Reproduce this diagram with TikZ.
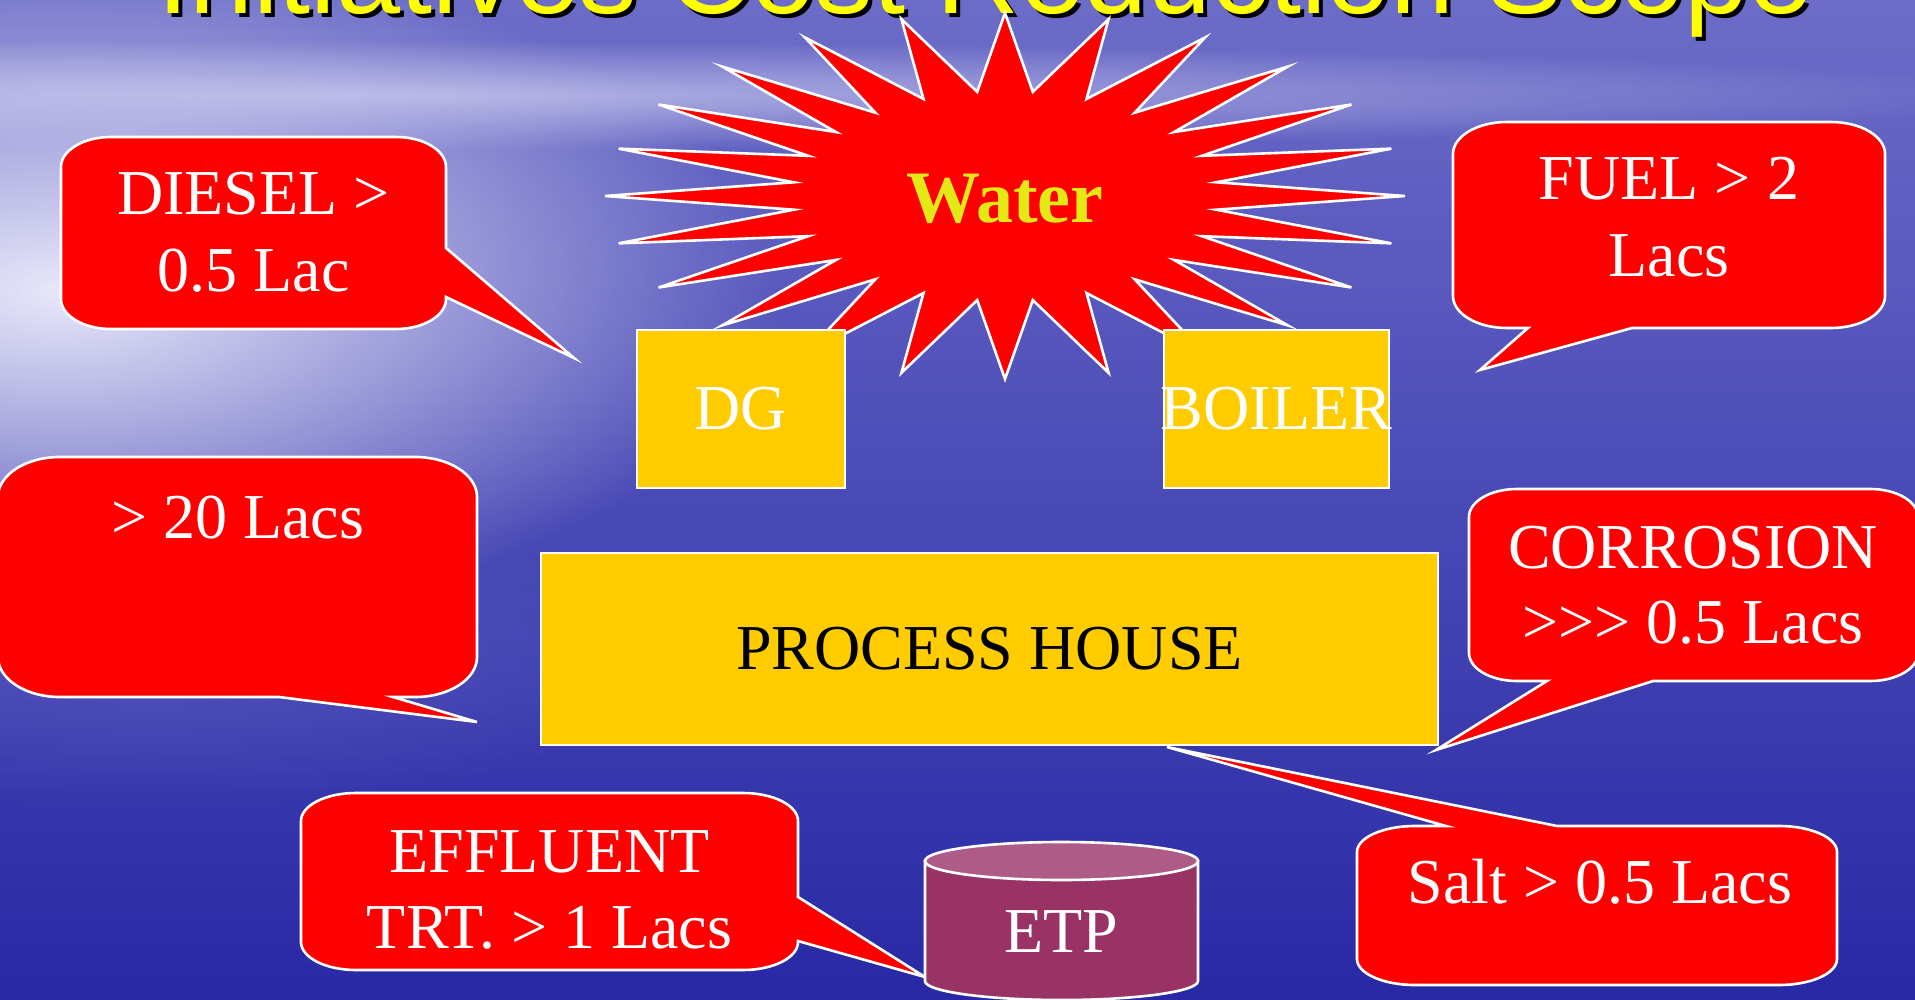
\documentclass[tikz,border=0pt]{standalone}
\usepackage{fontspec}
\setmainfont{Liberation Serif}
\newfontfamily\titlefont{Liberation Sans}
\usetikzlibrary{fadings}
\definecolor{calloutred}{RGB}{255,0,0}
\definecolor{boxyellow}{RGB}{255,204,0}
\definecolor{wateryellow}{RGB}{228,232,20}
\definecolor{titleyellow}{RGB}{255,255,0}
\definecolor{etpbody}{RGB}{153,51,102}
\definecolor{etptop}{RGB}{174,92,135}
\definecolor{bgtop}{RGB}{108,108,200}
\definecolor{bgmid}{RGB}{70,70,180}
\definecolor{bgbot}{RGB}{40,40,165}
\definecolor{glowc}{RGB}{232,232,250}
\definecolor{bandc}{RGB}{200,200,238}
\definecolor{streakc}{RGB}{110,110,200}
\tikzfading[name=glowfade, inner color=transparent!0, outer color=transparent!100]
\begin{document}
\begin{tikzpicture}[x=0.5pt, y=-0.5pt,
  callout/.style={fill=calloutred, draw=white, line width=1.3pt},
  ybox/.style={fill=boxyellow, draw=white, line width=1.3pt, inner sep=0pt, font=\fontsize{32}{38}\selectfont},
  lbl/.style={font=\fontsize{32}{38}\selectfont, text=white, inner sep=0pt, anchor=base},
  ttl/.style={font=\titlefont\fontsize{57.5}{60}\selectfont, inner sep=0pt, anchor=base west},
]
\useasboundingbox (0,0) rectangle (1915,1000);
\clip (0,0) rectangle (1915,1000);
% background
\shade[top color=bgtop, middle color=bgmid, bottom color=bgbot] (0,0) rectangle (1915,1000);
\fill[glowc, path fading=glowfade] (60,290) ellipse [x radius=720, y radius=340];
\fill[bandc, path fading=glowfade, opacity=0.8] (350,95) ellipse [x radius=1700, y radius=55];
\fill[streakc, path fading=glowfade, opacity=0.45] (150,650) ellipse [x radius=550, y radius=160];
% title
\node[ttl, text=black] (titleshadow) at (161,18) {Initiatives Cost Reduction Scope};
\node[ttl, text=titleyellow] (title) at (157,14) {Initiatives Cost Reduction Scope};
% star
\draw[fill=calloutred, draw=white, line width=1.3pt] (1005,13)
  \foreach \k in {1,...,47} { -- ({1005+(400-187*mod(\k,2))*cos(90-7.5*\k)}, {196-(183-78*mod(\k,2))*sin(90-7.5*\k)}) } -- cycle;
\node[font=\bfseries\fontsize{37}{40}\selectfont, text=wateryellow, inner sep=0pt, anchor=base] (water) at (1005,222) {Water};
% boxes
\node[ybox, minimum width=104pt, minimum height=79pt, text=white] (dg) at (741,409) {DG};
\node[ybox, minimum width=112.5pt, minimum height=79pt, text=white] (boiler) at (1276.5,409) {\makebox[0pt][c]{BOILER}};
\node[ybox, minimum width=448.5pt, minimum height=96pt, text=black] (ph) at (989.5,649) {PROCESS HOUSE};
% DIESEL callout
\draw[callout] (111,137) -- (396,137) arc[start angle=-90,end angle=0,x radius=50,y radius=30]
  -- (446,248) -- (574,358) -- (446,297) -- (446,299) arc[start angle=0,end angle=90,x radius=50,y radius=30]
  -- (111,329) arc[start angle=90,end angle=180,x radius=50,y radius=30]
  -- (61,167) arc[start angle=180,end angle=270,x radius=50,y radius=30] -- cycle;
\node[lbl] (diesel1) at (253.5,215) {DIESEL >};
\node[lbl] (diesel2) at (253.5,292) {0.5 Lac};
% FUEL callout
\draw[callout] (1507,122) -- (1831,122) arc[start angle=-90,end angle=0,x radius=54,y radius=32]
  -- (1885,296) arc[start angle=0,end angle=90,x radius=54,y radius=32]
  -- (1632,328) -- (1480,370) -- (1528,328) -- (1507,328) arc[start angle=90,end angle=180,x radius=54,y radius=32]
  -- (1453,154) arc[start angle=180,end angle=270,x radius=54,y radius=32] -- cycle;
\node[lbl] (fuel1) at (1669,200) {FUEL > 2};
\node[lbl] (fuel2) at (1669,277) {Lacs};
% > 20 Lacs callout
\draw[callout] (60,457) -- (415,457) arc[start angle=-90,end angle=0,x radius=62,y radius=40]
  -- (477,657) arc[start angle=0,end angle=90,x radius=62,y radius=40]
  -- (393,697) -- (477,722) -- (279,697) -- (60,697) arc[start angle=90,end angle=180,x radius=62,y radius=40]
  -- (-2,497) arc[start angle=180,end angle=270,x radius=62,y radius=40] -- cycle;
\node[lbl] (twenty) at (237.5,538) {> 20 Lacs};
% CORROSION callout
\draw[callout] (1517,489) -- (1870,489) arc[start angle=-90,end angle=0,x radius=48,y radius=28]
  -- (1918,653) arc[start angle=0,end angle=90,x radius=48,y radius=28]
  -- (1653,681) -- (1436,750) -- (1547,681) -- (1517,681) arc[start angle=90,end angle=180,x radius=48,y radius=28]
  -- (1469,517) arc[start angle=180,end angle=270,x radius=48,y radius=28] -- cycle;
\node[lbl] (corr1) at (1693,568) {CORROSION};
\node[lbl] (corr2) at (1693,643) {>\kern0pt>\kern0pt> 0.5 Lacs};
% Salt callout
\draw[callout] (1415,826) -- (1446,826) -- (1167,747) -- (1557,826) -- (1779,826)
  arc[start angle=-90,end angle=0,x radius=58,y radius=26]
  -- (1837,959) arc[start angle=0,end angle=90,x radius=58,y radius=26]
  -- (1415,985) arc[start angle=90,end angle=180,x radius=58,y radius=26]
  -- (1357,852) arc[start angle=180,end angle=270,x radius=58,y radius=26] -- cycle;
\node[lbl] (salt) at (1600,903) {Salt > 0.5 Lacs};
% EFFLUENT callout
\draw[callout] (356,793) -- (743,793) arc[start angle=-90,end angle=0,x radius=55,y radius=28]
  -- (798,897) -- (925,977) -- (798,941) -- (798,942) arc[start angle=0,end angle=90,x radius=55,y radius=28]
  -- (356,970) arc[start angle=90,end angle=180,x radius=55,y radius=28]
  -- (301,821) arc[start angle=180,end angle=270,x radius=55,y radius=28] -- cycle;
\node[lbl] (eff1) at (549.5,872) {EFFLUENT};
\node[lbl] (eff2) at (549.5,948) {TRT. > 1 Lacs};
% ETP cylinder
\draw[fill=etpbody, draw=white, line width=1.3pt] (925,861) -- (925,981)
  arc[start angle=180,end angle=0,x radius=136.5,y radius=19] -- (1198,861) -- cycle;
\draw[fill=etptop, draw=white, line width=1.3pt] (1061.5,861) ellipse [x radius=136.5, y radius=19];
\node[lbl] (etp) at (1061.5,952) {ETP};
\end{tikzpicture}
\end{document}
